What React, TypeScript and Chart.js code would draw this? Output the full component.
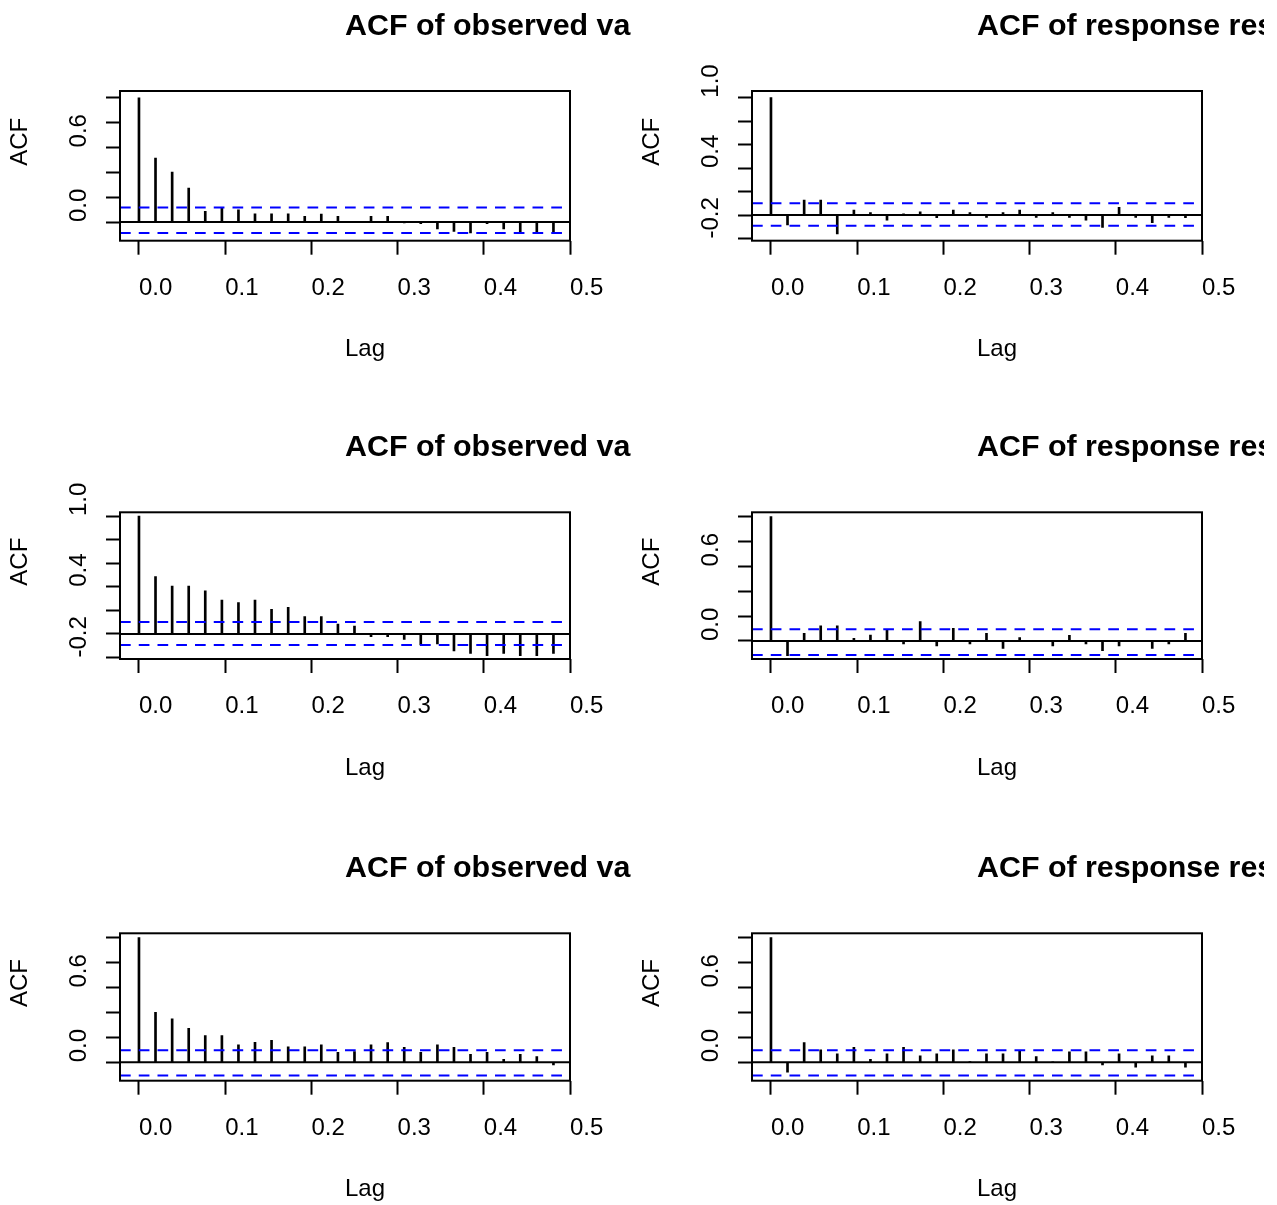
import React, { useEffect, useRef } from 'react';
import { Chart, registerables } from 'chart.js';

Chart.register(...registerables);

// ---------------- data ----------------
const lags = [
  0, 0.0192, 0.0385, 0.0577, 0.0769, 0.0962, 0.1154, 0.1346, 0.1538, 0.1731,
  0.1923, 0.2115, 0.2308, 0.25, 0.2692, 0.2885, 0.3077, 0.3269, 0.3462, 0.3654,
  0.3846, 0.4038, 0.4231, 0.4423, 0.4615, 0.4808,
];
const xTickValues = [0, 0.1, 0.2, 0.3, 0.4, 0.5];

const acfObserved1 = [
  1.0, 0.514, 0.401, 0.273, 0.086, 0.112, 0.099, 0.067, 0.067, 0.067,
  0.045, 0.064, 0.045, 0.005, 0.045, 0.045, -0.008, -0.013, -0.056, -0.075,
  -0.088, -0.013, -0.056, -0.088, -0.088, -0.088,
];
const acfResidual1 = [
  1.0, -0.085, 0.128, 0.128, -0.162, 0.043, 0.02, -0.043, 0.01, 0.028,
  -0.023, 0.043, 0.02, -0.02, 0.02, 0.043, -0.02, 0.02, -0.02, -0.043,
  -0.105, 0.065, -0.02, -0.065, -0.02, -0.023,
];
const acfObserved2 = [
  1.0, 0.486, 0.407, 0.407, 0.367, 0.288, 0.266, 0.288, 0.209, 0.226,
  0.147, 0.147, 0.085, 0.068, -0.023, -0.023, -0.045, -0.093, -0.085, -0.144,
  -0.164, -0.184, -0.164, -0.184, -0.184, -0.164,
];
const acfResidual2 = [
  1.0, -0.118, 0.062, 0.121, 0.121, 0.021, 0.048, 0.094, -0.024, 0.155,
  -0.04, 0.102, -0.024, 0.062, -0.059, 0.027, 0.005, -0.04, 0.046, -0.024,
  -0.078, -0.04, -0.005, -0.059, -0.024, 0.062,
];
const acfObserved3 = [
  1.0, 0.401, 0.348, 0.273, 0.214, 0.214, 0.139, 0.16, 0.176, 0.123,
  0.123, 0.139, 0.08, 0.086, 0.139, 0.158, 0.12, 0.08, 0.139, 0.12,
  0.064, 0.08, 0.024, 0.064, 0.045, -0.021,
];
const acfResidual3 = [
  1.0, -0.08, 0.158, 0.099, 0.067, 0.12, 0.024, 0.067, 0.12, 0.051,
  0.067, 0.099, 0.005, 0.067, 0.067, 0.094, 0.045, 0.003, 0.083, 0.083,
  -0.021, 0.067, -0.04, 0.051, 0.051, -0.04,
];

const ciUpper = [0.117, 0.1, 0.102, 0.094, 0.096, 0.096];
const ciLower = [-0.088, -0.091, -0.093, -0.113, -0.107, -0.107];
const yMins = [-0.15, -0.219, -0.212, -0.145, -0.148, -0.148];
const yMaxs = [1.054, 1.057, 1.032, 1.035, 1.035, 1.035];

const yTicksFromZero = [0, 0.2, 0.4, 0.6, 0.8, 1.0];
const yTicksFromNeg = [-0.2, 0, 0.2, 0.4, 0.6, 0.8, 1.0];
const yLabelsA = [0, 0.6];
const yLabelsB = [-0.2, 0.4, 1.0];

const titleObserved = 'ACF of observed va';
const titleResponse = 'ACF of response res';
const xAxisTitle = 'Lag';
const yAxisTitle = 'ACF';

const X_MIN = -0.022;
const X_MAX = 0.5;

// ---------------- layout (pixels) ----------------
const FONT = '"Liberation Sans", Arial, Helvetica, sans-serif';
const PANEL_W = 632;
const ROW_TOPS = [0, 421, 842];
const ROW_H = [421, 421, 363];
const BOX_TOP = [91, 91.3, 91.3];
const BOX_BOTTOM = [240.7, 238, 238.7];
const BOX_LEFT = 120;
const BOX_RIGHT = 570;
const YLABEL_X = 79;

const panels = [
  { title: titleObserved, values: acfObserved1, yTicks: yTicksFromZero, yLabels: yLabelsA },
  { title: titleResponse, values: acfResidual1, yTicks: yTicksFromNeg, yLabels: yLabelsB },
  { title: titleObserved, values: acfObserved2, yTicks: yTicksFromNeg, yLabels: yLabelsB },
  { title: titleResponse, values: acfResidual2, yTicks: yTicksFromZero, yLabels: yLabelsA },
  { title: titleObserved, values: acfObserved3, yTicks: yTicksFromZero, yLabels: yLabelsA },
  { title: titleResponse, values: acfResidual3, yTicks: yTicksFromZero, yLabels: yLabelsA },
];

function AcfPanel({ index }: { index: number }) {
  const ref = useRef<HTMLCanvasElement | null>(null);
  const row = Math.floor(index / 2);
  const col = index % 2;
  const h = ROW_H[row];
  const boxTop = BOX_TOP[row];
  const boxBottom = BOX_BOTTOM[row];
  const p = panels[index];

  useEffect(() => {
    const canvas = ref.current;
    if (!canvas) return;

    const framePlugin = {
      id: 'acfFrame' + index,
      afterDatasetsDraw(chart: any) {
        const { ctx, chartArea: a } = chart;
        ctx.save();
        ctx.strokeStyle = '#000';
        ctx.lineWidth = 2;
        ctx.strokeRect(a.left, a.top, a.right - a.left, a.bottom - a.top);
        ctx.fillStyle = '#000';
        ctx.textAlign = 'left';
        ctx.textBaseline = 'middle';
        const cx = (a.left + a.right) / 2;
        ctx.font = `bold 30.4px ${FONT}`;
        ctx.fillText(p.title, cx, a.top - 64.5);
        ctx.font = `24px ${FONT}`;
        ctx.fillText(xAxisTitle, cx, a.bottom + 109);
        ctx.translate(20.5, (a.top + a.bottom) / 2);
        ctx.rotate(-Math.PI / 2);
        ctx.fillText(yAxisTitle, 0, 0);
        ctx.restore();
      },
    };

    const lineDs = (y: number, color: string, dash: number[], order: number) => ({
      type: 'line' as const,
      data: [
        { x: X_MIN, y },
        { x: X_MAX, y },
      ],
      borderColor: color,
      borderWidth: 2,
      borderDash: dash,
      pointRadius: 0,
      fill: false,
      order,
    });

    const chart = new Chart(canvas, {
      type: 'bar',
      data: {
        datasets: [
          lineDs(ciUpper[index], '#0000FF', [10.7, 8.05], 0),
          lineDs(ciLower[index], '#0000FF', [10.7, 8.05], 0),
          lineDs(0, '#000000', [], 1),
          {
            type: 'bar' as const,
            data: lags.map((x, i) => ({ x, y: p.values[i] })),
            backgroundColor: '#000000',
            borderWidth: 0,
            barThickness: 2,
            order: 2,
          },
        ] as any,
      },
      options: {
        animation: false,
        responsive: false,
        events: [],
        layout: {
          padding: { left: 0, right: PANEL_W - BOX_RIGHT, top: boxTop, bottom: 0 },
        },
        plugins: {
          legend: { display: false },
          tooltip: { enabled: false },
          title: { display: false },
        },
        scales: {
          x: {
            type: 'linear',
            position: 'bottom',
            min: X_MIN,
            max: X_MAX,
            offset: false,
            afterBuildTicks: (s: any) => {
              s.ticks = xTickValues.map((v) => ({ value: v }));
            },
            afterFit: (s: any) => {
              s.height = h - boxBottom;
            },
            grid: {
              offset: false,
              drawOnChartArea: false,
              drawTicks: true,
              tickLength: 14,
              tickWidth: 2,
              tickColor: '#000',
            },
            border: { display: false },
            ticks: {
              autoSkip: false,
              align: 'start',
              padding: 19,
              color: '#000',
              maxRotation: 0,
              minRotation: 0,
              font: { family: FONT, size: 24 },
              callback: (v: any) => Number(v).toFixed(1),
            },
          },
          y: {
            type: 'linear',
            min: yMins[index],
            max: yMaxs[index],
            afterBuildTicks: (s: any) => {
              s.ticks = p.yTicks.map((v) => ({ value: v }));
            },
            afterFit: (s: any) => {
              s.width = BOX_LEFT;
            },
            grid: {
              drawOnChartArea: false,
              drawTicks: true,
              tickLength: 14,
              tickWidth: 2,
              tickColor: '#000',
            },
            border: { display: false },
            ticks: {
              autoSkip: false,
              mirror: true,
              crossAlign: 'near',
              padding: YLABEL_X - BOX_LEFT,
              minRotation: 90,
              maxRotation: 90,
              color: '#000',
              font: { family: FONT, size: 24 },
              callback: (v: any) => {
                const n = Number(v);
                return p.yLabels.some((l) => Math.abs(l - n) < 1e-9) ? n.toFixed(1) : '';
              },
            },
          },
        },
      } as any,
      plugins: [framePlugin],
    });
    return () => chart.destroy();
  }, [index]);

  return (
    <canvas
      ref={ref}
      width={PANEL_W}
      height={h}
      style={{
        position: 'absolute',
        left: col * PANEL_W,
        top: ROW_TOPS[row],
        width: PANEL_W,
        height: h,
      }}
    />
  );
}

export default function App() {
  return (
    <div
      style={{
        position: 'absolute',
        left: 0,
        top: 0,
        width: 1277,
        height: 1205,
        overflow: 'hidden',
        background: '#fff',
      }}
    >
      {panels.map((_, i) => (
        <AcfPanel key={i} index={i} />
      ))}
    </div>
  );
}
